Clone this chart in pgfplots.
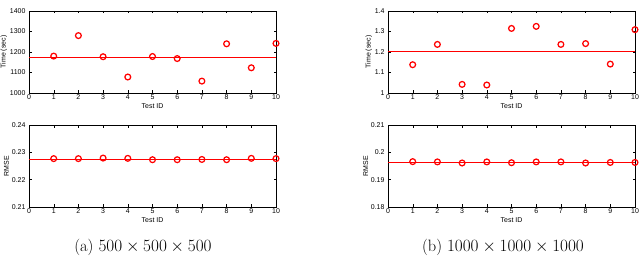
\documentclass[border=0pt]{standalone}
\usepackage{fontspec}
\newfontfamily\plotfont{Liberation Sans}
\usepackage{pgfplots}
\pgfplotsset{compat=1.18}
\pgfplotsset{
  mstyle/.style={
    scale only axis, width=247bp, height=82bp,
    xmin=0, xmax=10, xtick={0,1,...,10},
    tick align=inside, major tick length=2.5bp,
    axis line style={line width=0.5pt},
    tick style={line width=0.4pt, black},
    tick label style={font=\plotfont\fontsize{7}{8}\selectfont},
    label style={font=\plotfont\fontsize{7}{8}\selectfont},
    /pgf/number format/assume math mode=true,
    /pgf/number format/1000 sep={},
    xlabel={Test ID},
    xticklabel style={yshift=1.5bp},
    xlabel style={yshift=3bp},
    ylabel style={yshift=-4bp},
    anchor=south west,
  },
  pts/.style={only marks, mark=o, mark size=2.9bp, mark options={line width=1.25pt, red}, red},
  avg/.style={draw=red, line width=0.9pt, no marks},
}
\begin{document}
\begin{tikzpicture}
\useasboundingbox (0,0) rectangle (640bp,256bp);
% (a) Time
\begin{axis}[mstyle, at={(29bp,163bp)}, ymin=1000, ymax=1400, ytick={1000,1100,...,1400}, ylabel={Time (sec)}]
\addplot[avg] coordinates {(0,1172.4) (10,1172.4)};
\addplot[pts] coordinates {(1,1180) (2,1280) (3,1177) (4,1078) (5,1178) (6,1168) (7,1058) (8,1240) (9,1123) (10,1242)};
\end{axis}
% (a) RMSE
\begin{axis}[mstyle, at={(29bp,49bp)}, ymin=0.21, ymax=0.24, ytick={0.21,0.22,0.23,0.24}, ylabel={RMSE},
  yticklabel style={/pgf/number format/fixed, /pgf/number format/precision=2}]
\addplot[avg] coordinates {(0,0.2274) (10,0.2274)};
\addplot[pts] coordinates {(1,0.2277) (2,0.2277) (3,0.2279) (4,0.2278) (5,0.2273) (6,0.2273) (7,0.2274) (8,0.2273) (9,0.2278) (10,0.2277)};
\end{axis}
% (b) Time (x 10^4)
\begin{axis}[mstyle, at={(388bp,163bp)}, ymin=1, ymax=1.4, ytick={1,1.1,1.2,1.3,1.4}, ylabel={Time (sec)},
  yticklabel style={/pgf/number format/fixed, /pgf/number format/precision=1}]
\addplot[avg] coordinates {(0,1.2024) (10,1.2024)};
\addplot[pts] coordinates {(1,1.138) (2,1.237) (3,1.042) (4,1.039) (5,1.315) (6,1.325) (7,1.237) (8,1.241) (9,1.141) (10,1.309)};
\node[anchor=south west, inner sep=0pt, font=\plotfont\fontsize{7}{8}\selectfont] at (rel axis cs:0,1.02) {x 10\textsuperscript{4}};
\end{axis}
% (b) RMSE
\begin{axis}[mstyle, at={(388bp,49bp)}, ymin=0.18, ymax=0.21, ytick={0.18,0.19,0.2,0.21}, ylabel={RMSE},
  yticklabel style={/pgf/number format/fixed, /pgf/number format/precision=2}]
\addplot[avg] coordinates {(0,0.1963) (10,0.1963)};
\addplot[pts] coordinates {(1,0.1966) (2,0.1965) (3,0.1961) (4,0.1965) (5,0.1962) (6,0.1965) (7,0.1965) (8,0.1961) (9,0.1963) (10,0.1963)};
\end{axis}
\node[anchor=base, font=\fontsize{16.5}{18}\selectfont] at (143bp,5bp) {(a) $500\times500\times500$};
\node[anchor=base, font=\fontsize{16.5}{18}\selectfont] at (503bp,5bp) {(b) $1000\times1000\times1000$};
\end{tikzpicture}
\end{document}
